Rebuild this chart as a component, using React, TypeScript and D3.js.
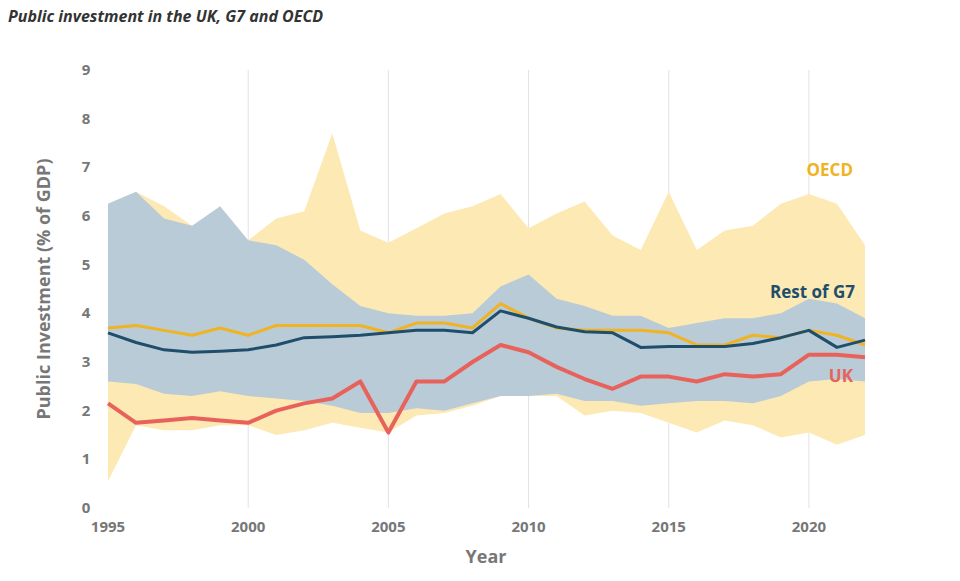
import React from "react";
import * as d3 from "d3";

const years = d3.range(1995, 2023);
const oecdUpper = [6.25,6.5,6.2,5.8,5.6,5.5,5.95,6.1,7.7,5.7,5.45,5.75,6.05,6.2,6.45,5.75,6.05,6.3,5.6,5.3,6.5,5.3,5.7,5.8,6.25,6.45,6.25,5.4];
const oecdLower = [0.55,1.7,1.6,1.6,1.7,1.7,1.5,1.6,1.75,1.65,1.55,1.9,1.95,2.1,2.3,2.3,2.3,1.9,2.0,1.95,1.75,1.55,1.8,1.7,1.45,1.55,1.3,1.5];
const g7Upper = [6.25,6.5,5.95,5.8,6.2,5.5,5.4,5.1,4.6,4.15,4.0,3.95,3.95,4.0,4.55,4.8,4.3,4.15,3.95,3.95,3.7,3.8,3.9,3.9,4.0,4.3,4.2,3.9];
const g7Lower = [2.6,2.55,2.35,2.3,2.4,2.3,2.25,2.2,2.1,1.95,1.95,2.05,2.0,2.15,2.3,2.3,2.35,2.2,2.2,2.1,2.15,2.2,2.2,2.15,2.3,2.6,2.65,2.6];
const oecdLine = [3.7,3.75,3.65,3.55,3.7,3.55,3.75,3.75,3.75,3.75,3.6,3.8,3.8,3.7,4.2,3.9,3.7,3.65,3.65,3.65,3.6,3.35,3.35,3.55,3.5,3.65,3.55,3.35];
const g7Line = [3.6,3.4,3.25,3.2,3.22,3.25,3.35,3.5,3.52,3.55,3.6,3.65,3.65,3.6,4.05,3.9,3.72,3.62,3.6,3.3,3.32,3.32,3.32,3.38,3.5,3.65,3.3,3.45];
const ukLine = [2.15,1.75,1.8,1.85,1.8,1.75,2.0,2.15,2.25,2.6,1.55,2.6,2.6,3.0,3.35,3.2,2.9,2.65,2.45,2.7,2.7,2.6,2.75,2.7,2.75,3.15,3.15,3.1];
const xTicks = [1995, 2000, 2005, 2010, 2015, 2020];
const yTicks = d3.range(0, 10);

export default function App() {
  const x = d3.scaleLinear().domain([1995, 2022]).range([108, 865]);
  const y = d3.scaleLinear().domain([0, 9]).range([508, 70]);
  const area = (lo: number[], hi: number[]) =>
    d3.area<number>().x((d) => x(d)).y0((_, i) => y(lo[i])).y1((_, i) => y(hi[i]))(years) || "";
  const line = (v: number[]) => d3.line<number>().x((d) => x(d)).y((_, i) => y(v[i]))(years) || "";
  const font = "'Open Sans', 'Noto Sans', sans-serif";
  return (
    <svg width={960} height={581} style={{ position: "absolute", left: 0, top: 0 }} fontFamily={font}>
      <text x={8} y={22} fontSize={16} fontWeight={700} fontStyle="italic" fill="#333">Public investment in the UK, G7 and OECD</text>
      {xTicks.slice(1).map((t) => (
        <line key={t} x1={x(t)} x2={x(t)} y1={y(9)} y2={y(0)} stroke="#e2e2e2" strokeWidth={1} />
      ))}
      <path d={area(oecdLower, oecdUpper)} fill="#fde9b3" />
      <path d={area(g7Lower, g7Upper)} fill="#b9cbd6" />
      <path d={line(oecdLine)} fill="none" stroke="#f0b323" strokeWidth={3} strokeLinejoin="round" />
      <path d={line(g7Line)} fill="none" stroke="#1f4e6c" strokeWidth={3} strokeLinejoin="round" />
      <path d={line(ukLine)} fill="none" stroke="#e8625c" strokeWidth={4} strokeLinejoin="round" />
      {yTicks.map((t) => (
        <text key={t} x={86} y={y(t) + 5} fontSize={15} fontWeight={700} fill="#777" textAnchor="middle">{t}</text>
      ))}
      {xTicks.map((t) => (
        <text key={t} x={x(t)} y={532} fontSize={15} fontWeight={700} fill="#777" textAnchor="middle">{t}</text>
      ))}
      <text x={486} y={563} fontSize={18} fontWeight={700} fill="#777" textAnchor="middle">Year</text>
      <text transform={`translate(50,289) rotate(-90)`} fontSize={18} fontWeight={700} fill="#777" textAnchor="middle">Public Investment (% of GDP)</text>
      <text x={853} y={176} fontSize={17} fontWeight={700} fill="#f0b323" textAnchor="end">OECD</text>
      <text x={855} y={298} fontSize={17} fontWeight={700} fill="#1f4e6c" textAnchor="end">Rest of G7</text>
      <text x={853} y={382} fontSize={17} fontWeight={700} fill="#e8625c" textAnchor="end">UK</text>
    </svg>
  );
}
